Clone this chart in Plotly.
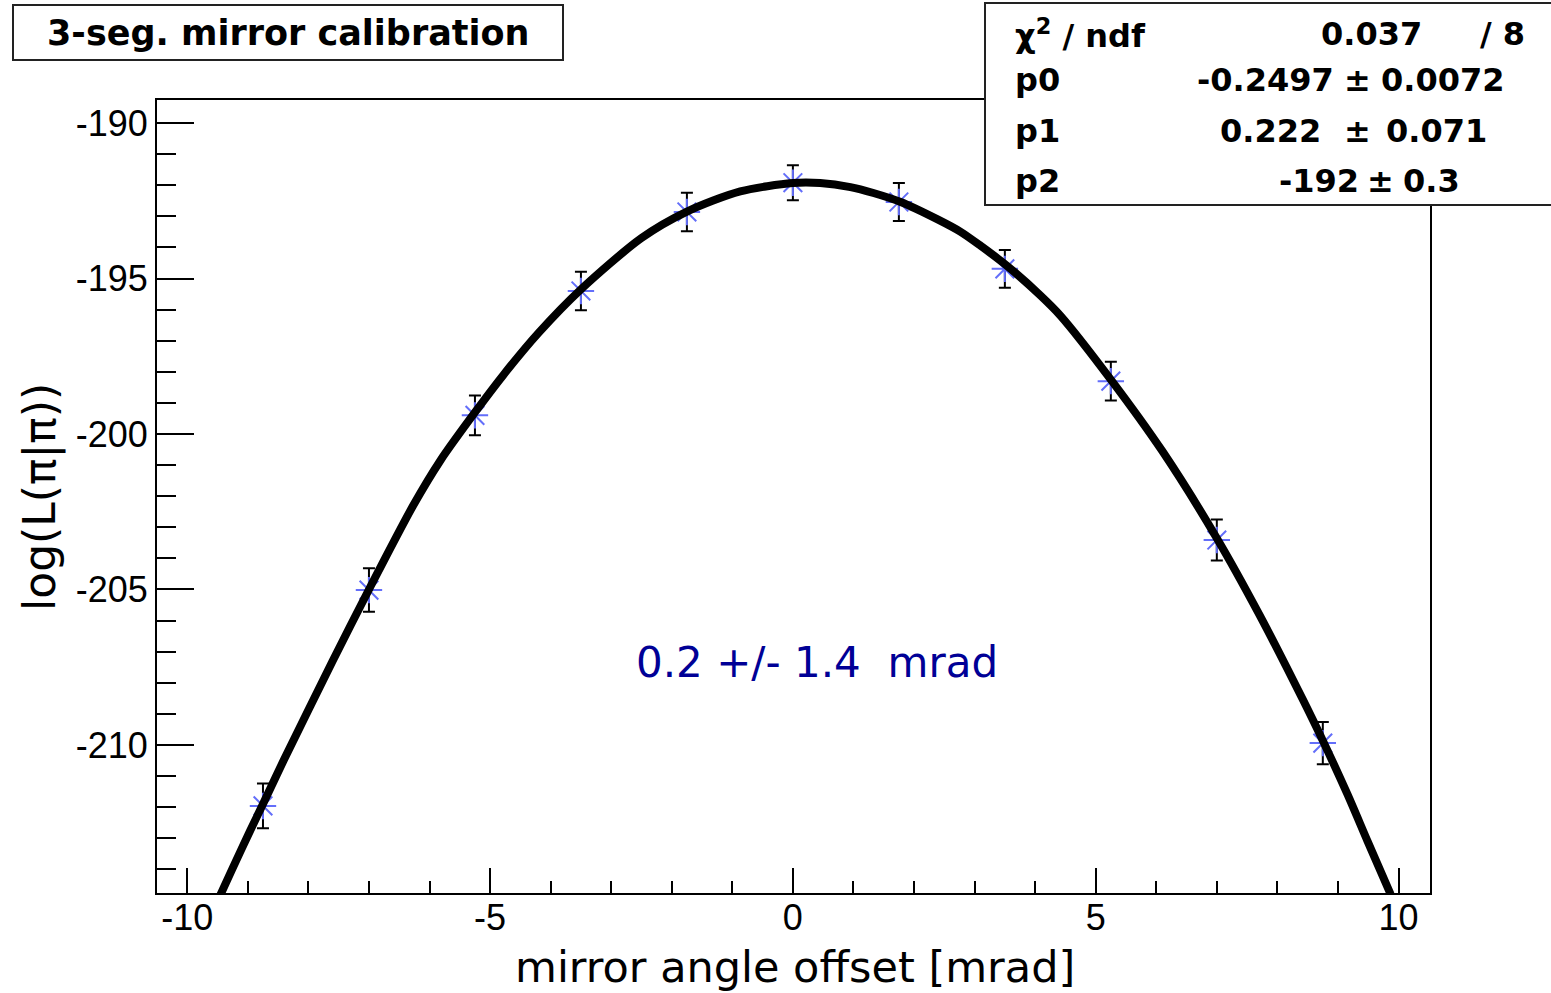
import plotly.graph_objects as go

# ---- data ----
x_points = [-8.75, -7.0, -5.25, -3.5, -1.75, 0.0, 1.75, 3.5, 5.25, 7.0, 8.75]
y_points = [-211.96, -205.02, -199.40, -195.40, -192.86, -191.92, -192.54, -194.69, -198.30, -203.41, -209.94]
y_errors = [0.72, 0.70, 0.64, 0.62, 0.62, 0.56, 0.61, 0.61, 0.62, 0.66, 0.68]

curve_x = [-9.46, -9.26, -8.96, -8.75, -8.41, -7.6, -7.0, -6.27, -5.82, -5.21, -4.78, -4.2, -3.5,
           -2.5, -1.75, -0.87, 0.0, 0.45, 0.95, 1.33, 1.78, 2.39, 2.77, 3.1, 3.54, 4.09, 4.42,
           5.25, 6.1, 7.0, 7.7, 8.41, 8.76, 9.16, 9.49, 9.87]
curve_y = [-214.85, -214.0, -212.75, -211.9, -210.5, -207.3, -205.0, -202.3, -200.85, -199.2, -198.1,
           -196.75, -195.35, -193.7, -192.85, -192.2, -191.93, -191.93, -192.06, -192.25, -192.54,
           -193.1, -193.5, -193.95, -194.6, -195.55, -196.2, -198.25, -200.55, -203.35, -205.8,
           -208.5, -209.9, -211.6, -213.1, -214.8]

x_tick_vals = [-10, -5, 0, 5, 10]
x_tick_text = ["-10", "-5", "0", "5", "10"]
y_tick_vals = [-190, -195, -200, -205, -210]
y_tick_text = ["-190", "-195", "-200", "-205", "-210"]

title_text = "3-seg. mirror calibration"
x_title = "mirror angle offset [mrad]"
y_title = "log(L(\u03c0|\u03c0))"
result_text = "0.2 +/- 1.4\u00a0\u00a0mrad"

# (text, pixel x, anchor)
stats_rows = [
    ("\u03c7<sup>2</sup> / ndf", [("0.037", 1424, "right"), ("/ 8", 1527, "right")]),
    ("p0", [("-0.2497", 1336, "right"), ("\u00b1", 1357, "center"), ("0.0072", 1379, "left")]),
    ("p1", [("0.222", 1218, "left"), ("\u00b1", 1357, "center"), ("0.071", 1384, "left")]),
    ("p2", [("-192", 1361, "right"), ("\u00b1", 1380, "center"), ("0.3", 1401, "left")]),
]
stats_row_y = [34, 80, 131, 181]

# ---- layout geometry (pixels) ----
W, H = 1551, 993
L, R, T, B = 157, 1430, 100, 893


def px(xp):
    return (xp - L) / (R - L)


def py(yp):
    return (B - yp) / (B - T)


fig = go.Figure()

fig.add_trace(go.Scatter(
    x=x_points, y=y_points, mode="markers",
    marker=dict(symbol="asterisk-open", size=22, line=dict(color="#1a4bff", width=2)),
    error_y=dict(type="data", array=y_errors, color="black", thickness=2, width=6),
    showlegend=False,
))

fig.add_trace(go.Scatter(
    x=curve_x, y=curve_y, mode="lines",
    line=dict(color="black", width=8, shape="spline", smoothing=0.8),
    showlegend=False,
))

axis_common = dict(
    showgrid=False, zeroline=False, showline=True, linecolor="black", linewidth=2,
    mirror=True, ticks="inside", tickcolor="black", tickwidth=2,
    tickfont=dict(family="Liberation Sans, Arial", size=36, color="black"),
    tickmode="array",
)

fig.update_xaxes(
    **axis_common, range=[-10.5, 10.52], tickvals=x_tick_vals, ticktext=x_tick_text, ticklen=25,
    ticklabelstandoff=-8,
    minor=dict(ticks="inside", ticklen=12, tickwidth=2, tickcolor="black", dtick=1, tick0=0, showgrid=False),
)
fig.update_yaxes(
    **axis_common, range=[-214.76, -189.26], tickvals=y_tick_vals, ticktext=y_tick_text, ticklen=37,
    minor=dict(ticks="inside", ticklen=19, tickwidth=2, tickcolor="black", dtick=1, tick0=0, showgrid=False),
)

shapes = [
    dict(type="rect", xref="paper", yref="paper", x0=px(13), x1=px(563), y0=py(60), y1=py(5),
         line=dict(color="#222222", width=2), fillcolor="white", layer="above"),
    dict(type="rect", xref="paper", yref="paper", x0=px(985), x1=px(1565), y0=py(205), y1=py(3),
         line=dict(color="#222222", width=2), fillcolor="white", layer="above"),
]

stat_font = dict(family="DejaVu Sans", size=32, color="black")
annotations = [
    dict(text="<b>" + title_text + "</b>", x=px(288), y=py(33), xref="paper", yref="paper",
         showarrow=False, xanchor="center", yanchor="middle",
         font=dict(family="DejaVu Sans", size=35, color="black")),
    dict(text=x_title, x=px(795), y=py(967), xref="paper", yref="paper", showarrow=False,
         xanchor="center", yanchor="middle", font=dict(family="DejaVu Sans", size=43, color="black")),
    dict(text=y_title, x=px(40), y=py(497), xref="paper", yref="paper", showarrow=False,
         xanchor="center", yanchor="middle", textangle=-90,
         font=dict(family="DejaVu Sans", size=44, color="black")),
    dict(text=result_text, x=px(817), y=py(662), xref="paper", yref="paper", showarrow=False,
         xanchor="center", yanchor="middle",
         font=dict(family="Comic Sans MS, DejaVu Sans", size=42, color="#000096")),
]
for (label, vals), yrow in zip(stats_rows, stats_row_y):
    annotations.append(dict(text="<b>" + label + "</b>", x=px(1013), y=py(yrow), xref="paper", yref="paper",
                            showarrow=False, xanchor="left", yanchor="middle", font=stat_font))
    for txt, xr, anc in vals:
        annotations.append(dict(text="<b>" + txt + "</b>", x=px(xr), y=py(yrow), xref="paper", yref="paper",
                                showarrow=False, xanchor=anc, yanchor="middle", font=stat_font))

fig.update_layout(
    width=W, height=H, autosize=False,
    margin=dict(l=L, r=W - R, t=T, b=H - B, pad=0),
    paper_bgcolor="white", plot_bgcolor="white",
    shapes=shapes, annotations=annotations, showlegend=False,
)

fig.write_html("out.html", config={"displayModeBar": False},
               post_script="document.body.style.margin='0px';")
